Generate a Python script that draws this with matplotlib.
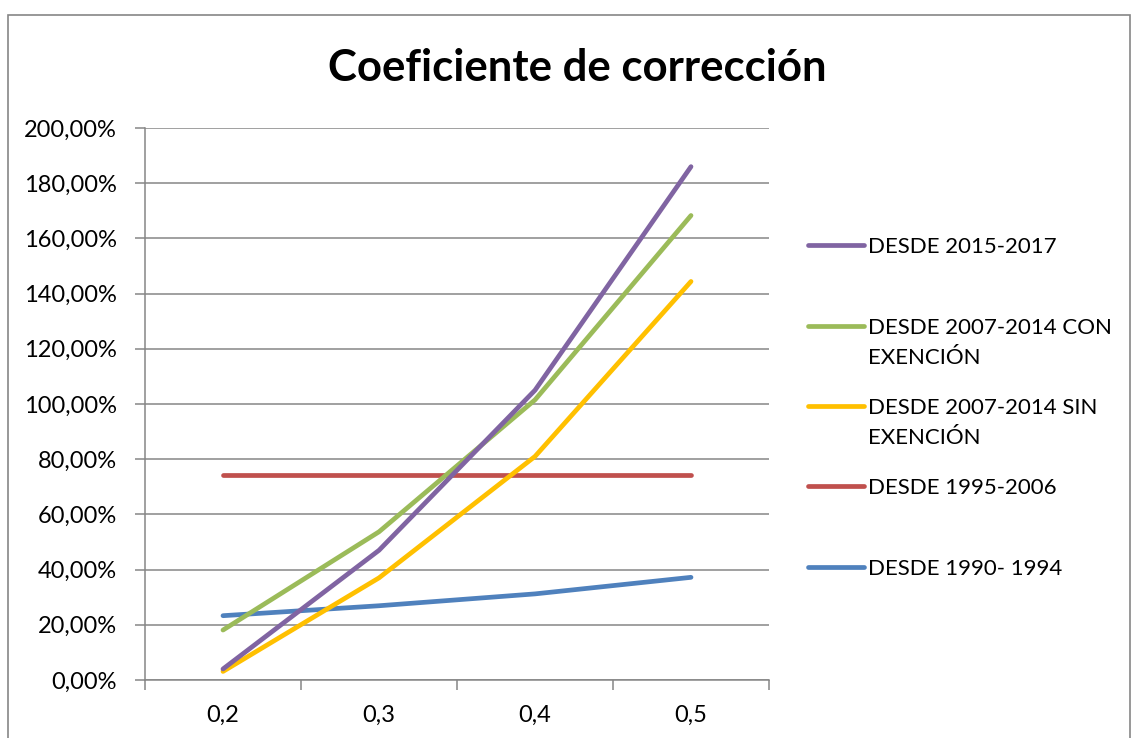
import matplotlib
matplotlib.use("Agg")
import matplotlib.pyplot as plt
from matplotlib.lines import Line2D
from matplotlib.patches import Rectangle
from matplotlib.ticker import FixedLocator, FuncFormatter

plt.rcParams["font.family"] = ["Lato", "DejaVu Sans"]

# -------- datos --------
categorias = ["0,2", "0,3", "0,4", "0,5"]
desde_1990_1994 = [23.3, 26.9, 31.2, 37.2]
desde_1995_2006 = [74.4, 74.4, 74.4, 74.4]
desde_2007_sin = [3.1, 37.0, 81.0, 144.4]
desde_2007_con = [18.1, 53.7, 101.5, 168.3]
desde_2015_2017 = [4.0, 47.0, 105.0, 186.0]

series = [
    ("DESDE 1990- 1994", desde_1990_1994, "#4F81BD"),
    ("DESDE 1995-2006", desde_1995_2006, "#C0504D"),
    ("DESDE 2007-2014 SIN\nEXENCIÓN", desde_2007_sin, "#FFC000"),
    ("DESDE 2007-2014 CON\nEXENCIÓN", desde_2007_con, "#9BBB59"),
    ("DESDE 2015-2017", desde_2015_2017, "#8064A2"),
]
# -----------------------

W, H = 1132, 738
fig = plt.figure(figsize=(W / 100, H / 100), dpi=100)

# borde del gráfico (estilo Excel)
fig.patches.append(Rectangle((8 / W, -0.05), (1130 - 8) / W, 1.05 - 15 / H,
                             transform=fig.transFigure, fill=False,
                             edgecolor="#868686", linewidth=1.2))

ax = fig.add_axes([145 / W, 1 - 680 / H, (769 - 145) / W, (680 - 128) / H])

x = list(range(len(categorias)))
for nombre, vals, color in series:
    ax.plot(x, vals, color=color, linewidth=3.4, solid_capstyle="round",
            solid_joinstyle="round")

ax.set_xlim(-0.5, len(categorias) - 0.5)
ax.set_ylim(0, 200)
ax.set_yticks(range(0, 201, 20))
ax.yaxis.set_major_formatter(FuncFormatter(lambda v, p: f"{v:.2f}".replace(".", ",") + "%"))
ax.grid(axis="y", color="#868686", linewidth=1.1)
ax.set_axisbelow(True)

ax.xaxis.set_major_locator(FixedLocator([i - 0.5 for i in range(len(categorias) + 1)]))
ax.xaxis.set_minor_locator(FixedLocator(x))
ax.set_xticklabels([], minor=False)
ax.set_xticklabels(categorias, minor=True)
ax.tick_params(axis="x", which="minor", length=0, pad=18, labelsize=17)
ax.tick_params(axis="x", which="major", length=7, width=1.1, color="#868686")
ax.tick_params(axis="y", length=7, width=1.1, color="#868686", pad=13, labelsize=17)

for s in ["top", "right"]:
    ax.spines[s].set_visible(False)
for s in ["left", "bottom"]:
    ax.spines[s].set_color("#868686")
    ax.spines[s].set_linewidth(1.1)

fig.text(577 / W, 1 - 68 / H, "Coeficiente de corrección", ha="center", va="center",
         fontsize=31.5, fontweight="bold")

# leyenda a la derecha (orden inverso como en Excel)
ys = [245, 326, 406, 486, 567]
for (nombre, vals, color), y in zip(series[::-1], ys):
    fig.add_artist(Line2D([808 / W, 864 / W], [1 - y / H, 1 - y / H], color=color,
                          linewidth=3.4, solid_capstyle="round", transform=fig.transFigure))
    fig.text(868 / W, 1 - (y - 8) / H, nombre, ha="left", va="top", fontsize=16,
             linespacing=1.6)

fig.savefig("out.png", dpi=100)
